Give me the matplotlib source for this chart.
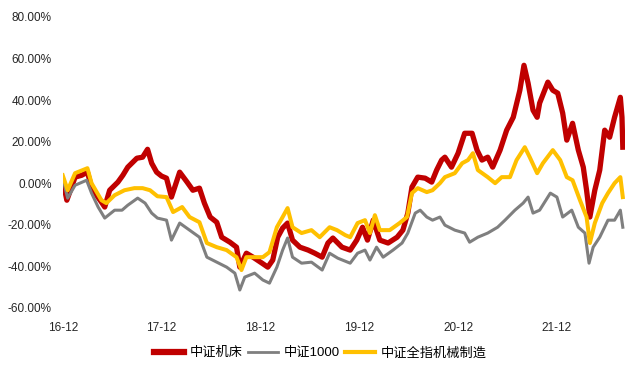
import matplotlib
matplotlib.use("Agg")
import matplotlib.pyplot as plt
import numpy as np

plt.rcParams['font.family'] = ['Liberation Sans', 'Noto Sans CJK SC', 'DejaVu Sans']

# months since 2016-12, values in %
red_m = [0.0, 0.5, 1.5, 2.3, 3.0, 3.5, 4.1, 4.7, 5.1, 5.7, 6.7, 7.3, 7.9, 9.0, 9.7, 10.3, 10.8, 11.4,
         12.0, 12.6, 13.2, 14.2, 15.1, 15.8, 16.6, 17.2, 17.9, 18.7, 19.3, 20.3, 21.1, 21.5, 22.3, 23.1,
         24.2, 24.9, 25.5, 26.1, 26.7, 27.3, 27.9, 28.8, 29.8, 30.6, 31.5, 32.2, 32.8, 33.9, 34.9, 35.7,
         36.4, 37.0, 37.7, 38.5, 39.5, 40.6, 41.3, 41.9, 42.4, 43.1, 44.0, 44.8, 45.4, 46.0, 46.4, 47.2,
         48.0, 48.8, 49.7, 50.3, 50.9, 51.6, 52.2, 53.1, 53.9, 54.7, 55.5, 56.0, 56.5, 57.1, 57.6, 57.9,
         58.9, 59.5, 60.1, 60.7, 61.2, 61.9, 62.6, 63.2, 63.6, 64.0, 64.6, 65.2, 65.8, 66.4, 67.0, 67.7,
         67.9, 68.0]
red_v = [1.4, -8.2, 2.9, 3.8, 5.3, -1.9, -5.8, -9.1, -11.5, -3.4, 0.5, 3.8, 7.7, 12.0, 12.5, 16.3, 9.6, 5.3,
         3.4, 2.4, -6.7, 5.3, 0.5, -3.4, -2.4, -9.6, -16.3, -18.8, -26.0, -28.4, -30.8, -40.4, -33.7, -35.6,
         -38.5, -40.4, -37.0, -26.0, -21.6, -19.2, -27.4, -30.8, -32.2, -33.7, -35.6, -28.8, -26.4, -30.8, -32.2, -27.4,
         -21.2, -27.4, -17.8, -27.4, -28.8, -26.0, -22.6, -14.4, -1.9, 2.9, 2.4, 0.5, 6.3, 11.1, 12.5, 7.7,
         14.4, 24.0, 24.0, 15.9, 11.1, 12.5, 7.7, 15.9, 25.5, 31.7, 44.7, 56.7, 48.1, 35.1, 31.7, 38.5,
         48.6, 44.7, 43.3, 33.7, 20.7, 28.8, 15.9, 7.7, -3.4, -16.3, -3.4, 6.3, 25.5, 22.1, 31.7, 41.3,
         31.7, 17.3]

gray_m = [0.0, 0.6, 1.5, 2.9, 3.5, 4.3, 5.1, 6.3, 7.2, 7.9, 9.1, 10.0, 10.8, 11.5, 12.6, 13.2, 14.2, 15.4,
          16.6, 17.5, 18.7, 19.9, 20.9, 21.5, 22.1, 23.3, 24.3, 25.1, 26.0, 26.7, 27.3, 27.9, 29.0, 30.2,
          31.5, 32.4, 33.4, 34.9, 35.8, 36.7, 37.3, 38.1, 38.9, 40.1, 41.2, 41.9, 42.8, 43.4, 44.2, 44.9,
          45.8, 46.4, 47.6, 48.8, 49.4, 50.4, 51.6, 52.8, 53.7, 54.9, 55.9, 56.5, 57.1, 57.9, 59.2, 60.0,
          60.7, 61.8, 62.6, 63.4, 63.9, 64.4, 65.2, 66.2, 67.0, 67.7, 68.0]
gray_v = [2.4, -7.2, -1.0, 1.4, -4.8, -11.5, -16.8, -13.0, -13.0, -10.6, -7.2, -9.6, -14.4, -16.8, -17.8, -27.4, -19.2, -22.6,
          -26.0, -35.6, -38.0, -40.4, -43.3, -51.4, -45.2, -43.3, -46.6, -48.1, -40.4, -32.2, -26.4, -35.6, -38.5, -38.0,
          -41.8, -33.7, -36.1, -38.5, -33.7, -32.2, -37.0, -30.8, -35.6, -32.2, -28.8, -24.0, -14.4, -13.0, -16.3, -17.8,
          -16.3, -20.2, -22.6, -24.0, -28.4, -26.0, -24.0, -21.2, -17.8, -13.0, -9.6, -6.7, -14.4, -13.0, -4.8, -6.7,
          -16.3, -13.0, -21.2, -24.0, -38.5, -30.8, -26.0, -17.8, -17.8, -13.0, -21.2]

yellow_m = [0.0, 0.6, 1.5, 3.0, 3.5, 4.7, 5.3, 6.3, 7.5, 8.7, 9.7, 10.6, 11.5, 12.6, 13.4, 14.5, 15.4, 16.6,
            17.5, 18.7, 19.9, 21.1, 21.7, 22.3, 23.3, 24.3, 25.1, 26.0, 26.7, 27.3, 27.9, 29.0, 30.2, 31.2,
            32.4, 33.3, 34.3, 34.9, 35.8, 36.7, 37.3, 37.9, 38.5, 39.7, 40.9, 41.8, 42.4, 43.1, 44.2, 44.9,
            45.8, 46.4, 47.6, 48.5, 49.2, 49.8, 50.4, 51.6, 52.5, 53.3, 54.3, 55.1, 56.1, 56.7, 57.6, 58.3,
            59.5, 60.4, 61.2, 61.9, 62.8, 63.6, 64.0, 64.6, 65.5, 66.2, 67.0, 67.7, 68.0]
yellow_v = [3.8, -3.4, 4.8, 7.2, 0.0, -8.2, -9.6, -5.8, -3.4, -2.4, -2.4, -3.4, -6.3, -6.7, -13.9, -11.5, -16.3, -18.8,
            -28.8, -30.8, -32.2, -35.6, -41.8, -35.6, -35.6, -35.6, -33.2, -21.2, -16.3, -12.0, -21.2, -24.0, -22.6, -26.0,
            -21.2, -22.6, -25.0, -26.0, -19.2, -17.8, -24.0, -15.4, -22.6, -22.6, -19.2, -16.3, -4.8, -2.4, -4.3, -3.4,
            0.0, 2.9, 4.8, 9.6, 11.1, 14.4, 6.3, 2.9, 0.0, 2.9, 2.9, 11.1, 17.3, 12.5, 4.8, 9.6,
            15.9, 11.1, 2.9, 1.4, -8.2, -16.3, -28.8, -19.2, -9.6, -4.8, 0.0, 2.9, -6.7]

tick_pos = [0, 12, 24, 36, 48, 60]
tick_labels = ["16-12", "17-12", "18-12", "19-12", "20-12", "21-12"]
y_ticks = [-60, -40, -20, 0, 20, 40, 60, 80]

fig = plt.figure(figsize=(6.4, 3.75), dpi=100)
ax = fig.add_axes([0.098, 0.179, 0.879, 0.776])

ax.plot(red_m, red_v, color='#C00000', linewidth=3.8, label='中证机床')
ax.plot(gray_m, gray_v, color='#7F7F7F', linewidth=2.2, label='中证1000')
ax.plot(yellow_m, yellow_v, color='#FFC000', linewidth=2.9, label='中证全指机械制造')

ax.set_xlim(0, 68.3)
ax.set_ylim(-60, 80)
ax.set_yticks(y_ticks)
ax.set_yticklabels([f"{v:.2f}%" for v in y_ticks], fontsize=8.5, color='#262626')
ax.set_xticks(tick_pos)
ax.set_xticklabels(tick_labels, fontsize=8.5, color='#262626')
ax.tick_params(axis='both', length=0)
ax.tick_params(axis='y', pad=8)
ax.tick_params(axis='x', pad=10)
for s in ax.spines.values():
    s.set_visible(False)

leg = fig.legend(loc='center', bbox_to_anchor=(0.5, 0.058), ncol=3, frameon=False,
                 fontsize=9.5, handlelength=2.3, handletextpad=0.4, columnspacing=0.4)
for h, w in zip(leg.get_lines(), [4.5, 2.0, 3.0]):
    h.set_linewidth(w)

plt.savefig("out.png", dpi=100)
